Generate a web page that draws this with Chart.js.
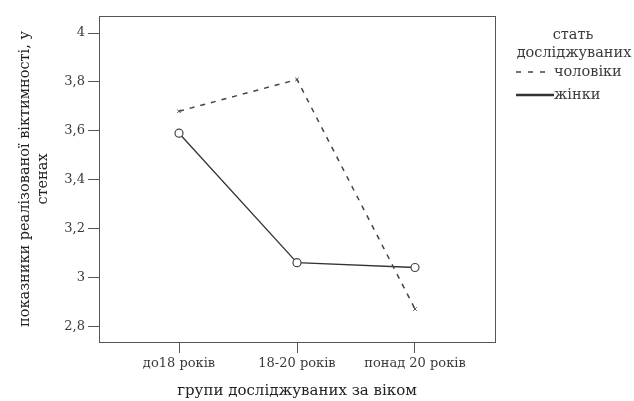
<!DOCTYPE html>
<html>
<head>
<meta charset="utf-8">
<script src="https://cdn.jsdelivr.net/npm/chart.js@4/dist/chart.umd.min.js"></script>
<style>
  html, body { margin: 0; padding: 0; background: #fff; }
  #wrap { width: 634px; height: 401px; }
</style>
</head>
<body>
<div id="wrap"><canvas id="grafico" width="634" height="401"></canvas></div>
<script>
// дані
let categorias = ["до18 років", "18-20 років", "понад 20 років"];
let cholovikiValores = [3.68, 3.81, 2.87];
let zhinkyValores = [3.59, 3.06, 3.04];
let nomes = ["чоловіки", "жінки"];
let yTicks = [2.8, 3, 3.2, 3.4, 3.6, 3.8, 4];
let tituloLegenda = ["стать", "досліджуваних"];
let tituloY = ["показники реалізованої віктимності, у", "стенах"];
let tituloX = "групи досліджуваних за віком";

let fonte = "'DejaVu Serif', 'Liberation Serif', serif";
let cor = "#3a3a3a";

// caixa do gráfico + legenda
const caixaPlugin = {
  id: "caixa",
  afterDraw(chart) {
    let ctx = chart.ctx;
    let a = chart.chartArea;
    ctx.save();
    ctx.strokeStyle = "#555";
    ctx.lineWidth = 1;
    ctx.strokeRect(a.left + 0.5, a.top + 0.5, a.right - a.left, a.bottom - a.top);

    // legenda
    let x0 = a.right + 21;
    ctx.fillStyle = cor;
    ctx.font = "14.5px " + fonte;
    ctx.textAlign = "center";
    ctx.textBaseline = "middle";
    ctx.fillText(tituloLegenda[0], 573, 35);
    ctx.fillText(tituloLegenda[1], 574, 53);

    ctx.textAlign = "left";
    chart.data.datasets.forEach((ds, i) => {
      let y = 72 + i * 23;
      ctx.beginPath();
      ctx.strokeStyle = ds.borderColor;
      ctx.lineWidth = i == 1 ? 2.5 : ds.borderWidth;
      ctx.setLineDash(i == 0 ? [5, 7] : []);
      ctx.moveTo(x0, y);
      ctx.lineTo(x0 + (i == 0 ? 32 : 38), y);
      ctx.stroke();
      ctx.setLineDash([]);
      ctx.fillText(ds.label, x0 + 38, y);
    });
    ctx.restore();
  }
};

let datasets = [
  {
    label: nomes[0],
    data: cholovikiValores.map((v, i) => ({ x: i, y: v })),
    borderColor: "#444",
    borderWidth: 1.5,
    borderDash: [5, 6],
    pointStyle: "crossRot",
    pointRadius: 2.5,
    pointBorderColor: "#555",
    pointBorderWidth: 1,
    tension: 0
  },
  {
    label: nomes[1],
    data: zhinkyValores.map((v, i) => ({ x: i, y: v })),
    borderColor: "#333",
    borderWidth: 1.3,
    pointStyle: "circle",
    pointRadius: 4,
    pointBackgroundColor: "#fff",
    pointBorderColor: "#444",
    pointBorderWidth: 1.2,
    tension: 0
  }
];

let chart = new Chart(document.getElementById("grafico").getContext("2d"), {
  type: "line",
  data: { datasets: datasets },
  options: {
    responsive: false,
    animation: false,
    layout: { padding: { top: 16, right: 139, left: 0, bottom: 0 } },
    plugins: {
      legend: { display: false },
      tooltip: { enabled: false }
    },
    scales: {
      x: {
        type: "linear",
        min: -0.678,
        max: 2.678,
        afterBuildTicks: s => { s.ticks = categorias.map((c, i) => ({ value: i })); },
        afterFit: s => { s.height = 59; },
        ticks: {
          callback: v => categorias[v],
          color: cor,
          padding: 3,
          maxRotation: 0,
          font: { family: fonte, size: 13 }
        },
        grid: { drawOnChartArea: false, drawTicks: true, tickLength: 11, color: "#555" },
        border: { display: false },
        title: {
          display: true,
          text: tituloX,
          color: "#222",
          padding: { top: 0, bottom: 1 },
          font: { family: fonte, size: 15 }
        }
      },
      y: {
        min: 2.735,
        max: 4.07,
        afterBuildTicks: s => { s.ticks = yTicks.map(v => ({ value: v })); },
        afterFit: s => { s.width = 99; },
        ticks: {
          callback: v => String(v).replace(".", ","),
          color: cor,
          padding: 3,
          font: { family: fonte, size: 13 }
        },
        grid: { drawOnChartArea: false, drawTicks: true, tickLength: 11, color: "#555" },
        border: { display: false },
        title: {
          display: true,
          text: tituloY,
          color: "#222",
          padding: { top: 17, bottom: 0 },
          font: { family: fonte, size: 14.5 }
        }
      }
    }
  },
  plugins: [caixaPlugin]
});
</script>
</body>
</html>
